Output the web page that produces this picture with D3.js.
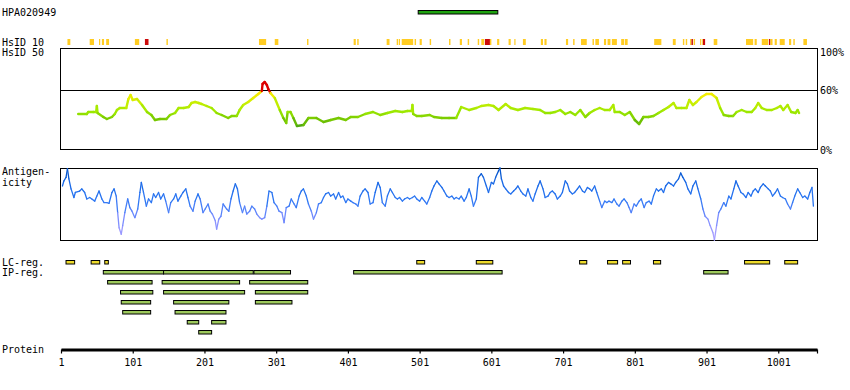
<!DOCTYPE html>
<html>
<head>
<meta charset="utf-8">
<script src="https://d3js.org/d3.v7.min.js"></script>
<style>
  body { margin: 0; background: #fff; }
  text { font-family: "DejaVu Sans Mono", monospace; font-size: 10px; fill: #000; }
</style>
</head>
<body>
<div id="chart"></div>
<script>
// protein length and axis ticks
var proteinLength = 1055;
var tickResidues = [1, 101, 201, 301, 401, 501, 601, 701, 801, 901, 1001];
var pctTicks = [100, 60, 0];

// antibody target region
var hpaRegion = {name: "HPA020949", start: 499, end: 610};

// HsID 10 hits: [start, end, level]  (level 1 = red)
var hsid10 = [
  [10,14,0],[41,47,0],[54,55,0],[58,61,0],[64,68,0],[104,110,0],[118,123,1],[148,150,0],
  [277,287,0],[299,304,0],[344,346,0],[409,412,0],[414,416,0],[455,459,0],[469,471,0],
  [472,473,0],[476,492,0],[494,496,0],[501,504,0],[515,517,0],[542,544,0],[557,560,0],
  [568,570,0],[582,584,0],[587,591,0],[592,599,1],[599,601,0],[609,612,0],[625,628,0],
  [633,634,0],[645,649,0],[670,673,0],[675,678,0],[705,708,0],[715,717,0],[726,734,0],
  [742,744,0],[746,751,0],[758,761,0],[763,767,0],[769,776,0],[782,786,0],[787,791,0],
  [828,838,0],[854,858,0],[868,870,0],[872,874,0],[878,880,0],[880,882,1],[883,885,0],
  [892,893,0],[895,896,0],[896,899,1],[911,916,0],[956,966,0],[968,971,0],[978,987,0],
  [988,990,1],[990,993,0],[996,999,0],[1003,1010,0],[1016,1019,0],[1022,1024,0],[1036,1041,0]
];

// HsID 50 identity profile: [residue, percent]
var hsid50 = [
  [25,36],[37,36],[39,38],[46,38],[50,38],[51,44],[52,37],[60,33],[65,31],[72,33],[76,36],
  [79,40],[83,42],[92,42],[95,51],[98,55],[101,50],[107,51],[114,45],[121,38],[127,35],
  [132,30],[139,31],[148,31],[153,35],[160,37],[165,42],[172,42],[179,43],[183,47],[188,48],
  [193,47],[197,46],[204,44],[211,42],[218,37],[225,35],[234,32],[239,34],[246,34],[250,40],
  [255,45],[262,48],[269,52],[276,56],[281,59],[282,66],[285,68],[288,65],[290,61],[293,57],
  [299,52],[306,40],[311,32],[315,27],[317,38],[321,38],[325,32],[330,24],[339,25],[346,32],
  [357,32],[367,28],[377,30],[388,32],[398,30],[405,33],[415,33],[425,36],[436,38],[446,35],
  [456,37],[467,39],[477,38],[484,39],[490,39],[491,45],[492,36],[497,34],[504,34],[515,35],
  [521,33],[532,32],[542,32],[552,32],[559,43],[570,40],[580,42],[587,44],[597,45],[604,44],
  [611,40],[621,46],[628,42],[638,40],[648,42],[659,41],[669,40],[676,37],[683,37],[690,38],
  [697,40],[704,36],[711,38],[718,35],[725,40],[732,33],[738,37],[745,40],[752,42],[759,40],
  [766,40],[771,45],[773,38],[780,38],[787,35],[794,38],[801,30],[807,26],[813,33],[820,33],
  [827,34],[834,37],[841,40],[848,43],[855,47],[859,42],[866,42],[873,42],[877,50],[882,45],
  [887,48],[894,53],[901,56],[908,56],[915,52],[920,42],[925,35],[932,34],[938,34],[943,38],
  [950,40],[957,38],[964,38],[969,42],[973,47],[978,42],[985,40],[992,40],[999,42],[1004,44],
  [1008,40],[1014,45],[1019,38],[1025,37],[1028,40],[1030,37]
];

// antigenicity profile: [residue, score 0-100]
var antigenicity = [
  [3,75],[5,82],[8,87],[10,99],[12,85],[15,71],[19,59],[21,66],[27,68],[30,71],[34,66],[37,57],
  [41,59],[44,57],[48,54],[51,61],[54,68],[58,57],[61,52],[65,52],[68,51],[72,66],[75,71],[78,61],
  [80,38],[82,17],[85,8],[87,20],[90,38],[94,57],[97,45],[100,40],[104,31],[108,43],[111,66],
  [113,80],[116,66],[120,47],[123,57],[127,52],[130,64],[133,59],[137,66],[140,57],[144,64],
  [147,54],[151,38],[154,52],[158,57],[161,64],[164,54],[168,61],[171,66],[175,71],[178,59],
  [181,47],[185,40],[188,54],[192,64],[195,57],[199,38],[202,43],[206,50],[209,40],[212,36],
  [216,27],[218,15],[221,29],[224,33],[227,50],[232,43],[235,40],[238,57],[241,68],[244,78],
  [247,71],[250,52],[254,38],[257,47],[260,36],[264,40],[267,47],[271,43],[274,36],[278,31],
  [281,29],[285,31],[288,47],[291,68],[295,66],[298,52],[302,47],[305,40],[309,38],[312,24],
  [315,45],[319,47],[322,57],[326,50],[329,45],[333,61],[336,68],[339,71],[343,61],[346,50],
  [350,40],[353,29],[357,38],[360,50],[364,52],[367,59],[370,64],[374,66],[377,61],[381,64],
  [384,57],[388,66],[391,59],[394,61],[398,52],[401,57],[405,54],[408,52],[412,50],[415,47],
  [418,61],[422,68],[425,71],[429,66],[432,50],[436,52],[439,66],[443,80],[446,73],[449,52],
  [453,47],[456,61],[460,71],[463,66],[467,59],[470,57],[473,59],[477,54],[480,57],[484,59],
  [487,57],[491,59],[494,61],[497,57],[501,54],[504,59],[508,54],[511,50],[515,59],[518,68],
  [521,75],[525,82],[528,78],[532,73],[535,68],[539,61],[542,59],[546,61],[549,57],[552,59],
  [556,57],[559,61],[563,54],[566,59],[570,71],[573,61],[576,47],[580,57],[583,87],[587,92],
  [590,87],[594,75],[597,66],[601,80],[604,78],[607,87],[611,96],[613,100],[615,85],[618,75],
  [621,71],[625,66],[628,64],[632,68],[635,71],[638,75],[642,68],[645,64],[649,61],[652,71],
  [656,59],[659,54],[662,64],[666,75],[669,82],[673,71],[676,59],[680,61],[683,66],[686,68],
  [690,64],[693,57],[697,61],[700,66],[704,82],[707,78],[710,68],[714,64],[717,66],[721,71],
  [724,75],[728,68],[731,66],[735,73],[738,71],[741,68],[745,75],[748,66],[752,54],[755,45],
  [759,54],[762,52],[765,54],[769,52],[772,57],[776,50],[779,47],[783,54],[786,57],[790,52],
  [793,45],[796,38],[800,50],[803,47],[807,54],[810,57],[814,45],[817,52],[821,54],[824,50],
  [827,61],[831,71],[834,68],[838,71],[841,66],[844,75],[848,80],[851,78],[855,75],[858,80],
  [862,85],[865,93],[868,87],[872,80],[875,71],[879,64],[882,75],[886,82],[889,71],[893,57],
  [896,43],[899,33],[903,29],[906,20],[910,10],[912,0],[915,20],[918,38],[921,43],[925,52],
  [928,47],[932,61],[935,57],[939,71],[942,82],[945,75],[949,66],[952,64],[956,59],[959,66],
  [963,61],[966,68],[969,71],[973,66],[976,73],[980,78],[983,75],[987,71],[990,68],[993,61],
  [997,66],[1000,71],[1004,61],[1007,59],[1011,57],[1014,50],[1018,43],[1021,52],[1024,61],
  [1028,71],[1031,66],[1035,59],[1038,61],[1042,57],[1045,66],[1048,73],[1050,47]
];

// low complexity regions: [start, end]
var lcRegions = [
  [8,20],[43,55],[62,67],[497,508],[580,603],[724,734],[763,777],[784,795],[827,837],
  [954,989],[1010,1028]
];

// interaction/IP regions: [start, end, row]
var ipRegions = [
  [60,144,0],[144,269,0],[270,321,0],[409,616,0],[897,931,0],
  [66,128,1],[142,250,1],[264,345,1],
  [84,129,2],[144,257,2],[272,345,2],
  [85,126,3],[158,235,3],[272,323,3],
  [87,126,4],[160,231,4],
  [177,193,5],[211,231,5],
  [193,211,6]
];

var width = 850, height = 390;

var svg = d3.select("#chart")
  .append("svg")
    .attr("width", width)
    .attr("height", height);

// scales
var x = d3.scaleLinear().domain([1, proteinLength]).range([61, 817]);
var yId = d3.scaleLinear().domain([0, 100]).range([150, 50]);
var yAg = d3.scaleLinear().domain([0, 100]).range([240, 168]);

var idColor = d3.scaleLinear()
  .domain([24, 30, 38, 47, 55, 60, 60.01])
  .range(["#4ea812", "#72c400", "#9be800", "#c6ee00", "#f2ee00", "#ffe000", "#dd0000"])
  .clamp(true);
var agColor = d3.scaleLinear()
  .domain([0, 30, 55, 80, 100])
  .range(["#b4a4ff", "#7a8cff", "#2e78f4", "#1868e6", "#0050c4"])
  .clamp(true);

// left labels
var labels = [
  ["HPA020949", 16], ["HsID 10", 46], ["HsID 50", 56], ["Antigen-", 175], ["icity", 186],
  ["LC-reg.", 266], ["IP-reg.", 276], ["Protein", 353]
];
svg.selectAll(".lbl").data(labels).enter().append("text")
  .attr("x", 2).attr("y", function(d){ return d[1]; })
  .text(function(d){ return d[0]; });

// HPA bar
svg.append("rect")
  .attr("x", x(hpaRegion.start)).attr("y", 10.5)
  .attr("width", x(hpaRegion.end) - x(hpaRegion.start)).attr("height", 3.5)
  .style("fill", "#1ea310").style("stroke", "#000").style("stroke-width", 1);

// HsID 10 row
svg.selectAll(".h10").data(hsid10).enter().append("rect")
  .attr("x", function(d){ return x(d[0]); })
  .attr("y", 39)
  .attr("width", function(d){ return Math.max(1.2, x(d[1]) - x(d[0])); })
  .attr("height", 6)
  .style("fill", function(d){ return d[2] ? "#cc0a0a" : "#ffcc22"; });

// HsID 50 box
svg.append("rect")
  .attr("x", 60.5).attr("y", 48.5).attr("width", 757).attr("height", 101)
  .style("fill", "none").style("stroke", "#000").style("stroke-width", 1);
svg.append("line")
  .attr("x1", 60.5).attr("x2", 817.5)
  .attr("y1", Math.round(yId(60)) + 0.5).attr("y2", Math.round(yId(60)) + 0.5)
  .style("stroke", "#000").style("stroke-width", 1);
svg.selectAll(".pct").data(pctTicks).enter().append("text")
  .attr("x", 820)
  .attr("y", function(d){ return yId(d) + (d == 100 ? 6 : 4); })
  .text(function(d){ return d + "%"; });

svg.selectAll(".hs").data(d3.pairs(hsid50)).enter().append("line")
  .attr("x1", function(d){ return x(d[0][0]); })
  .attr("y1", function(d){ return yId(d[0][1]); })
  .attr("x2", function(d){ return x(d[1][0]); })
  .attr("y2", function(d){ return yId(d[1][1]); })
  .style("stroke", function(d){ return idColor(Math.max(d[0][1], d[1][1]) > 60 ? 61 : (d[0][1] + d[1][1]) / 2); })
  .style("stroke-width", 2.4)
  .style("stroke-linecap", "round");

// antigenicity box
svg.append("rect")
  .attr("x", 60.5).attr("y", 168.5).attr("width", 757).attr("height", 72)
  .style("fill", "none").style("stroke", "#000").style("stroke-width", 1);

svg.selectAll(".ag").data(d3.pairs(antigenicity)).enter().append("line")
  .attr("x1", function(d){ return x(d[0][0]); })
  .attr("y1", function(d){ return yAg(d[0][1]); })
  .attr("x2", function(d){ return x(d[1][0]); })
  .attr("y2", function(d){ return yAg(d[1][1]); })
  .style("stroke", function(d){ return agColor((d[0][1] + d[1][1]) / 2); })
  .style("stroke-width", 1.3)
  .style("stroke-linecap", "round");

// LC regions
svg.selectAll(".lc").data(lcRegions).enter().append("rect")
  .attr("x", function(d){ return x(d[0]); })
  .attr("y", 260.5)
  .attr("width", function(d){ return x(d[1]) - x(d[0]); })
  .attr("height", 3.5)
  .style("fill", "#eedb2c").style("stroke", "#000").style("stroke-width", 1);

// IP regions
svg.selectAll(".ip").data(ipRegions).enter().append("rect")
  .attr("x", function(d){ return x(d[0]); })
  .attr("y", function(d){ return 270.5 + d[2] * 10; })
  .attr("width", function(d){ return x(d[1]) - x(d[0]); })
  .attr("height", 3.5)
  .style("fill", "#9dc95c").style("stroke", "#000").style("stroke-width", 1);

// protein axis
var axis = d3.axisBottom(x)
  .tickValues(tickResidues.concat([proteinLength]))
  .tickFormat(function(d){ return d == proteinLength ? "" : d; })
  .tickSize(4)
  .tickSizeOuter(0)
  .tickPadding(5);
var gAxis = svg.append("g")
  .attr("transform", "translate(0,349.5)")
  .call(axis);
gAxis.attr("font-family", null).attr("font-size", null);
gAxis.select(".domain").style("stroke", "#000").style("stroke-width", 3);
gAxis.selectAll(".tick line").style("stroke", "#000").style("stroke-width", 1.2);
gAxis.selectAll(".tick text").style("fill", "#000");
</script>
</body>
</html>
